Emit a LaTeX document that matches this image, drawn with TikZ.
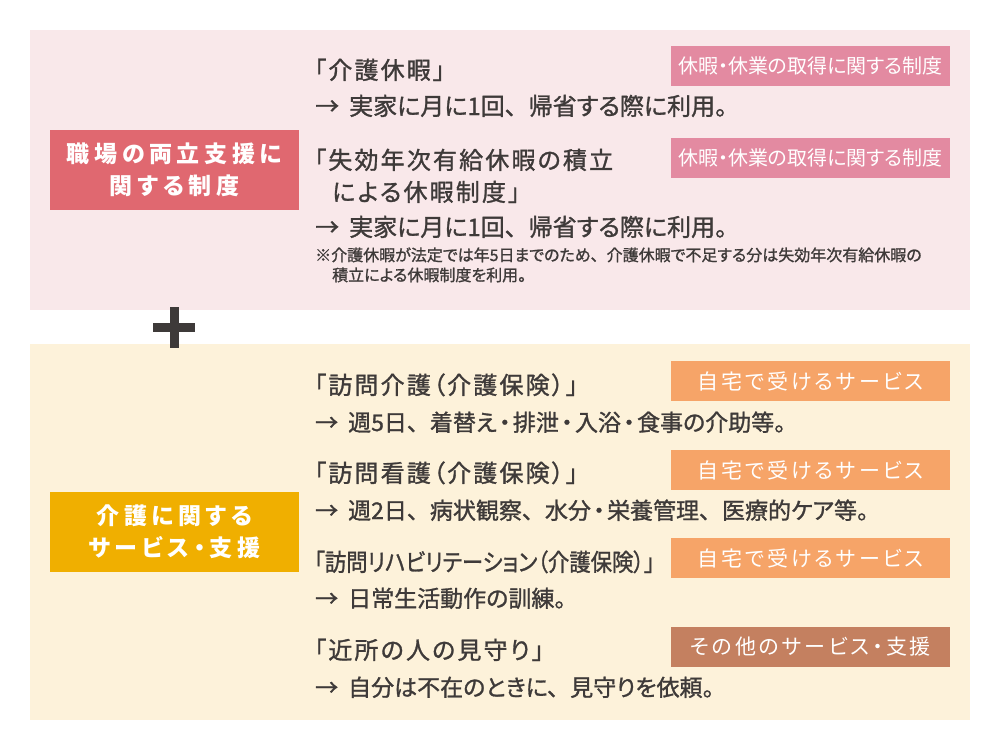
\documentclass[tikz,border=0pt]{standalone}
\usepackage{fontspec}
\setmainfont{Noto Sans CJK JP}[RawFeature={+palt}]
\newfontfamily\medfont{Noto Sans CJK JP}[RawFeature={+palt}, FakeBold=1.2]
\newcommand{\ten}{、\hspace{.5em}}
\newcommand{\nakaguro}{\hspace{.1em}・\hspace{.1em}}
\definecolor{panelpink}{HTML}{F9E8EA}
\definecolor{panelcream}{HTML}{FDF2DA}
\definecolor{headred}{HTML}{E06870}
\definecolor{headgold}{HTML}{F0AF00}
\definecolor{tagpink}{HTML}{E38AA1}
\definecolor{tagorange}{HTML}{F6A468}
\definecolor{tagbrown}{HTML}{C48060}
\definecolor{ink}{HTML}{3E3A39}
\tikzset{
  headbox/.style={minimum width=249pt, minimum height=80pt, inner sep=0pt, text=white, align=center,
    font=\bfseries\fontsize{23}{32}\selectfont\addfontfeature{LetterSpace=20}},
  tagbox/.style={minimum width=279pt, minimum height=40pt, inner sep=0pt, text=white,
    font=\fontsize{20}{20}\selectfont},
  servicetag/.style={tagbox, font=\fontsize{21}{21}\selectfont\addfontfeature{LetterSpace=14}},
  title/.style={anchor=base west, inner sep=0pt, text=ink,
    font=\medfont\fontsize{24}{24}\selectfont\addfontfeature{LetterSpace=9}},
  body/.style={anchor=base west, inner sep=0pt, text=ink, font=\medfont\fontsize{23}{23}\selectfont},
  note/.style={anchor=base west, inner sep=0pt, text=ink, font=\medfont\fontsize{16}{16}\selectfont},
}
\begin{document}
\begin{tikzpicture}[x=1pt,y=-1pt]
\useasboundingbox (0,0) rectangle (1000,752);

% panels
\fill [panelpink] (30,30) rectangle (970,310);
\fill [panelcream] (30,344) rectangle (970,720);

% plus sign
\fill [ink] (170,307) rectangle (179,348);
\fill [ink] (153,323) rectangle (195,332);

% headings
\node [headbox, fill=headred] (work) at (174.5,170) {職場の両立支援に\\関する制度};
\node [headbox, fill=headgold] (care) at (174.5,532) {介護に関する\\サービス・支援};

% upper panel
\node [tagbox, fill=tagpink] (tagA) at (810.5,66) {休暇・休業の取得に関する制度};
\node [tagbox, fill=tagpink] (tagB) at (810.5,158) {休暇・休業の取得に関する制度};

\node [title] (leave) at (314,79) {「介護休暇」};
\node [body, font=\medfont\fontsize{24}{24}\selectfont] (leaveuse) at (315,115) {→\hspace{10pt}実家に月に1回\ten 帰省する際に利用。};
\node [title] (stock) at (314,169) {「失効年次有給休暇の積立};
\node [title] (stockb) at (332,201) {による休暇制度」};
\node [body, font=\medfont\fontsize{24}{24}\selectfont] (stockuse) at (315,236) {→\hspace{10pt}実家に月に1回\ten 帰省する際に利用。};
\node [note] (remark) at (315,261) {※介護休暇が法定では年5日までのため\ten 介護休暇で不足する分は失効年次有給休暇の};
\node [note] (remarkb) at (332,281) {積立による休暇制度を利用。};

% lower panel
\foreach \y/\n in {381/C,470/D,558/E}
  \node [servicetag, fill=tagorange] (tag\n) at (810.5,\y) {自宅で受けるサービス};
\node [servicetag, fill=tagbrown] (tagF) at (810.5,647) {その他のサービス・支援};

\node [title] (visit) at (314,394) {「訪問介護（介護保険）」};
\node [body] (visituse) at (315,431) {→\hspace{10pt}週5日\ten 着替え\nakaguro 排泄\nakaguro 入浴\nakaguro 食事の介助等。};
\node [title] (nurse) at (314,482) {「訪問看護（介護保険）」};
\node [body] (nurseuse) at (315,519) {→\hspace{10pt}週2日\ten 病状観察\ten 水分\nakaguro 栄養管理\ten 医療的ケア等。};
\node [title, font=\medfont\fontsize{24}{24}\selectfont] (rehab) at (314,571) {\scalebox{0.89}[1]{「訪問リハビリテーション（介護保険）」}};
\node [body] (rehabuse) at (315,607) {→\hspace{10pt}日常生活動作の訓練。};
\node [title] (watch) at (314,659) {「近所の人の見守り」};
\node [body] (watchuse) at (315,696) {→\hspace{10pt}自分は不在のときに\ten 見守りを依頼。};

\end{tikzpicture}
\end{document}
